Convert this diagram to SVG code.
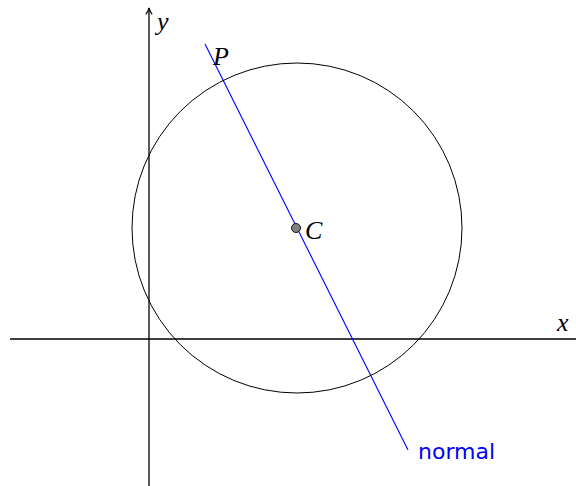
<svg xmlns="http://www.w3.org/2000/svg" width="576" height="486" viewBox="0 0 576 486">
<style>
.ax{stroke:#000;stroke-width:1.3;fill:none}
.m{font-family:"Liberation Serif","DejaVu Serif",serif;font-style:italic;font-size:26px;fill:#000}
.lbl{font-family:"DejaVu Sans","Liberation Sans",sans-serif;font-size:22px;fill:#0000ff}
</style>
<defs>
<marker id="ah" viewBox="0 0 10 10" refX="9" refY="5" markerWidth="8" markerHeight="8" orient="auto" markerUnits="userSpaceOnUse">
<path d="M1,1 Q5,4 9,5 Q5,6 1,9" fill="none" stroke="#000" stroke-width="1.3"/>
</marker>
</defs>
<g id="connectors">
<line class="ax" x1="10" y1="339" x2="576" y2="339"/>
<line class="ax" x1="149" y1="486" x2="149" y2="8" marker-end="url(#ah)"/>
<line x1="205" y1="44" x2="408" y2="450" stroke="#0000ff" stroke-width="1.1"/>
</g>
<g id="circle">
<circle cx="297" cy="228" r="165" fill="none" stroke="#000" stroke-width="1"/>
</g>
<g id="C">
<circle cx="296" cy="228" r="4.5" fill="#808080" stroke="#000" stroke-width="0.9"/>
<text class="m" x="305" y="239">C</text>
</g>
<g id="P"><text class="m" x="213" y="65">P</text></g>
<g id="ylabel"><text class="m" x="157" y="30">y</text></g>
<g id="xlabel"><text class="m" x="557" y="331">x</text></g>
<g id="normal"><text class="lbl" x="418" y="459">normal</text></g>
</svg>
